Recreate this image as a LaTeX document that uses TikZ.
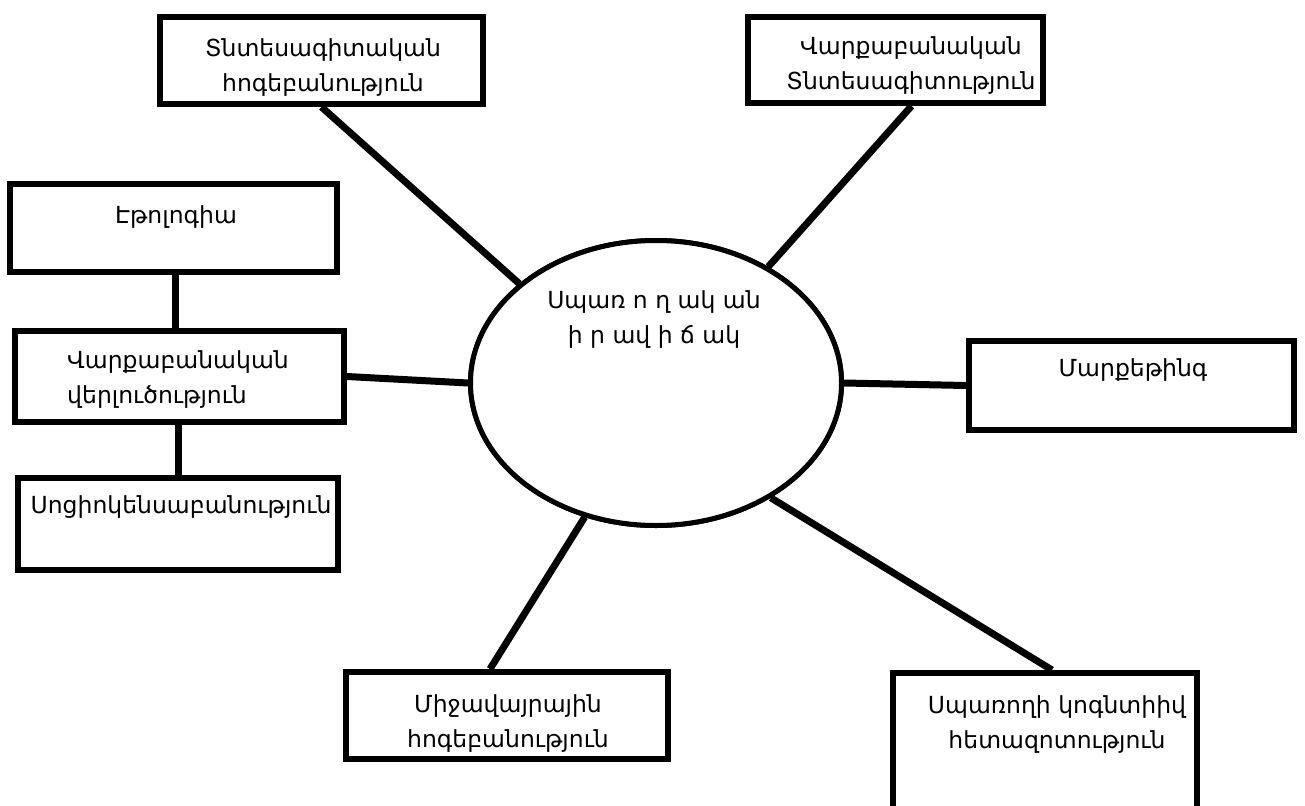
\documentclass[tikz,border=0pt]{standalone}
\usepackage{fontspec}
\setmainfont{DejaVu Sans}
\usetikzlibrary{calc,shapes.geometric}
\begin{document}
\begin{tikzpicture}[x=1pt,y=-1pt,
  box/.style={draw=black,line width=6pt,fill=white,rectangle,inner sep=0pt},
  oval/.style={draw=black,line width=5pt,fill=white,ellipse,inner sep=0pt},
  link/.style={line width=7pt,black},
  lbl/.style={font=\fontsize{23.5}{35}\selectfont,inner sep=0pt,align=center}]
\useasboundingbox (0,0) rectangle (1305,805);
\begin{scope}
\clip (0,0) rectangle (1305,805);
% the shapes, named
\path
  (656,383)    node[oval,minimum width=371,minimum height=285] (mid) {}
  (321.5,60.5) node[box,minimum width=323,minimum height=87]  (b1) {}
  (895.5,60)   node[box,minimum width=295,minimum height=86]  (b2) {}
  (173.5,228)  node[box,minimum width=327,minimum height=88]  (b3) {}
  (179.5,376.5)node[box,minimum width=329,minimum height=91]  (b4) {}
  (178,524)    node[box,minimum width=320,minimum height=92]  (b5) {}
  (1131.5,385.5) node[box,minimum width=325,minimum height=89] (b6) {}
  (507,715.5)  node[box,minimum width=322,minimum height=87]  (b7) {}
  (1045,750)   node[box,minimum width=304,minimum height=154] (b8) {};
% connectors
\draw[link] (b1.south) -- (mid.144.7);
\draw[link] ($(b2.south)+(16,0)$) -- (mid.46);
\draw[link] ($(b3.south)+(1.5,0)$) -- ($(b4.north)+(-4.5,0)$);
\draw[link] ($(b4.south)+(-1.5,0)$) -- (b5.north);
\draw[link] (b4.east) -- (mid.west);
\draw[link] (mid.east) -- (b6.west);
\draw[link] (mid.242) -- ($(b7.north)+(-17,0)$);
\draw[link] (mid.315.5) -- ($(b8.north)+(7,0)$);
% outlines again, over the connector ends
\path
  (656,383)    node[oval,minimum width=371,minimum height=285] {}
  (321.5,60.5) node[box,minimum width=323,minimum height=87]  {}
  (895.5,60)   node[box,minimum width=295,minimum height=86]  {}
  (173.5,228)  node[box,minimum width=327,minimum height=88]  {}
  (179.5,376.5)node[box,minimum width=329,minimum height=91]  {}
  (178,524)    node[box,minimum width=320,minimum height=92]  {}
  (1131.5,385.5) node[box,minimum width=325,minimum height=89] {}
  (507,715.5)  node[box,minimum width=322,minimum height=87]  {}
  (1045,750)   node[box,minimum width=304,minimum height=154] {};
\end{scope}
% labels
\node[lbl] (t1) at (323,67.5) {Տնտեսագիտական\\հոգեբանություն};
\node[lbl] (t2) at (911,66) {Վարքաբանական\\Տնտեսագիտություն};
\node[lbl] (t3) at (176,217) {Էթոլոգիա};
\node[lbl,align=left] (t4) at (178,380) {Վարքաբանական\\վերլուծություն};
\node[lbl] (t5) at (181,507) {Սոցիոկենսաբանություն};
\node[lbl] (t6) at (1133,370) {Մարքեթինգ};
\node[lbl] (t7) at (508,724) {Միջավայրային\\հոգեբանություն};
\node[lbl] (t8) at (1057,725) {Սպառողի կոգնտիիվ\\հետազոտություն};
\node[lbl] (t0) at (654,320) {Սպառ ո ղ ակ ան\\ի ր ավ ի ճ ակ};
\end{tikzpicture}
\end{document}
